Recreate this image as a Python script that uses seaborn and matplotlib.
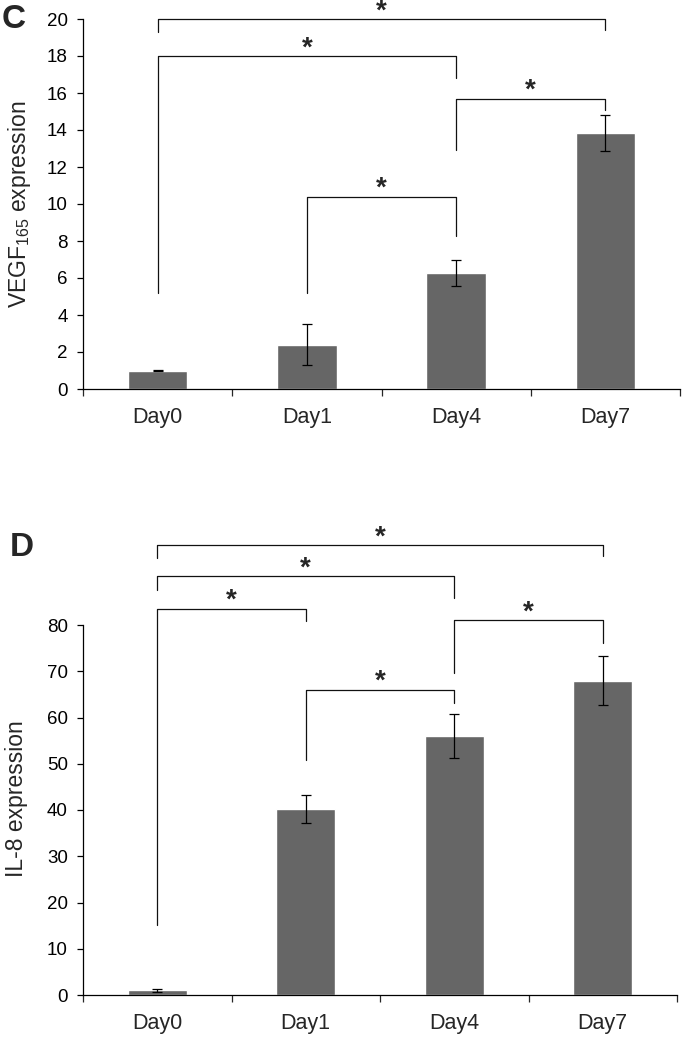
import numpy as np
import pandas as pd
import matplotlib
matplotlib.use("Agg")
import matplotlib.pyplot as plt
import seaborn as sns

days = ["Day0", "Day1", "Day4", "Day7"]

vegf_mean = [1.0, 2.4, 6.27, 13.84]
vegf_err = [0.05, 1.1, 0.7, 0.95]

il8_mean = [1.0, 40.2, 56.0, 68.0]
il8_err = [0.3, 3.0, 4.7, 5.2]

# significance brackets: (left bar, right bar, bracket height, left leg end, right leg end)
vegf_sig = [(0, 3, 20.0, 19.3, 19.4),
            (0, 2, 18.0, 5.2, 16.8),
            (2, 3, 15.7, 12.9, 15.1),
            (1, 2, 10.4, 5.2, 8.25)]
il8_sig = [(0, 3, 97.3, 94.4, 95.0),
           (0, 2, 90.6, 87.5, 85.8),
           (0, 1, 83.5, 15.2, 80.9),
           (2, 3, 81.0, 69.6, 76.2),
           (1, 2, 66.0, 50.9, 63.1)]

sns.set_style("ticks")
plt.rcParams["font.family"] = ["Liberation Sans", "DejaVu Sans"]
plt.rcParams["mathtext.fontset"] = "custom"
plt.rcParams["mathtext.rm"] = "Liberation Sans"
plt.rcParams["mathtext.it"] = "Liberation Sans"

W, H = 682, 1048
fig = plt.figure(figsize=(W / 100, H / 100), dpi=100)


def panel(rect, means, errs, sig, ymax, step, ylabel, label_xy, letter, letter_xy):
    ax = fig.add_axes(rect)
    df = pd.DataFrame({"day": days, "val": means})
    sns.barplot(data=df, x="day", y="val", color="#666666", saturation=1,
                width=0.4, errorbar=None, ax=ax)
    ax.errorbar(range(len(days)), means, yerr=errs, fmt="none", ecolor="black",
                elinewidth=0.9, capsize=3.6, capthick=0.9)
    ax.set_xlim(-0.5, 3.5)
    ax.set_ylim(0, ymax)
    ax.set_yticks(np.arange(0, ymax + 1, step))
    ax.tick_params(axis="y", labelsize=13.5, length=4, width=0.9, pad=7, colors="black")
    ax.set_xticks([-0.5, 0.5, 1.5, 2.5, 3.5])
    ax.set_xticklabels([])
    ax.set_xticks(range(4), minor=True)
    ax.set_xticklabels(days, minor=True)
    ax.tick_params(axis="x", which="major", length=5, width=0.9)
    ax.tick_params(axis="x", which="minor", length=0, labelsize=15.5, pad=13)
    ax.set_xlabel("")
    ax.set_ylabel(ylabel, fontsize=16.5)
    ax.yaxis.set_label_coords(*label_xy)
    sns.despine(ax=ax)
    for s in ["left", "bottom"]:
        ax.spines[s].set_linewidth(0.9)
        ax.spines[s].set_color("black")

    for i, j, y, yl, yr in sig:
        ax.plot([i, i, j, j], [yl, y, y, yr], color="#111111", lw=0.9, clip_on=False)
        ax.annotate("*", xy=((i + j) / 2, y), xytext=(0, 0.5), textcoords="offset points",
                    ha="center", va="baseline", fontsize=20, fontweight="bold",
                    annotation_clip=False)

    fig.text(letter_xy[0], letter_xy[1], letter, fontsize=24, fontweight="bold",
             ha="left", va="center")
    return ax


panel([83 / W, 1 - 389 / H, 597 / W, 370 / H], vegf_mean, vegf_err, vegf_sig,
      20, 2, r"VEGF$_{\mathregular{165}}$ expression", (-0.084, 0.5),
      "C", (2 / W, 1 - 20 / H))
panel([83 / W, 1 - 995 / H, 594 / W, 370 / H], il8_mean, il8_err, il8_sig,
      80, 10, "IL-8 expression", (-0.093, 0.53),
      "D", (10 / W, 1 - 548 / H))

fig.savefig("out.png", dpi=100)
